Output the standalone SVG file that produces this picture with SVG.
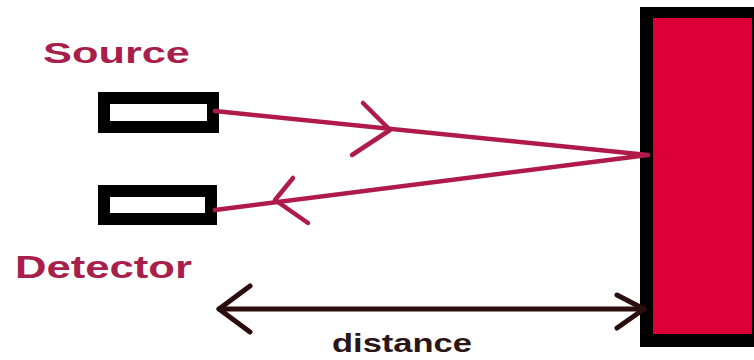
<svg xmlns="http://www.w3.org/2000/svg" width="754" height="360" viewBox="0 0 754 360">
<style>
.lbl{font-family:"Liberation Sans",Arial,sans-serif;font-weight:bold;fill:#a81f4c}
.dist{font-family:"Liberation Sans",Arial,sans-serif;font-weight:bold;fill:#2a1616}
.box{fill:#fff;stroke:#000;stroke-width:12}
.ray{fill:none;stroke:#b01a4a;stroke-width:4.5;stroke-linecap:round;stroke-linejoin:round}
.dim{fill:none;stroke:#2b0d0d;stroke-width:5;stroke-linecap:round;stroke-linejoin:round}
</style>
<rect width="754" height="360" fill="#fff"/>
<g id="source">
<rect class="box" x="104" y="98" width="109" height="29"/>
<text class="lbl" x="43" y="63" font-size="30" textLength="147" lengthAdjust="spacingAndGlyphs">Source</text>
</g>
<g id="detector">
<rect class="box" x="104" y="191" width="107" height="28"/>
<text class="lbl" x="15" y="278" font-size="31" textLength="177" lengthAdjust="spacingAndGlyphs">Detector</text>
</g>
<g id="wall">
<rect x="640" y="7" width="130" height="340" fill="#000"/>
<rect x="653" y="18" width="99" height="316" fill="#dc0036"/>
</g>
<g id="connectors">
<path class="ray" d="M215,111 L648,155 L215,210"/>
<path class="ray" d="M363,103 L390,130 L352,155"/>
<path class="ray" d="M293,178 L275,200 L308,223"/>
<path class="dim" d="M219,309 L644,309"/>
<path class="dim" d="M250,286 L219,309 L250,332"/>
<path class="dim" d="M617,295 L644,309 L617,328"/>
<text class="dist" x="332" y="352" font-size="26" textLength="140" lengthAdjust="spacingAndGlyphs">distance</text>
</g>
</svg>
